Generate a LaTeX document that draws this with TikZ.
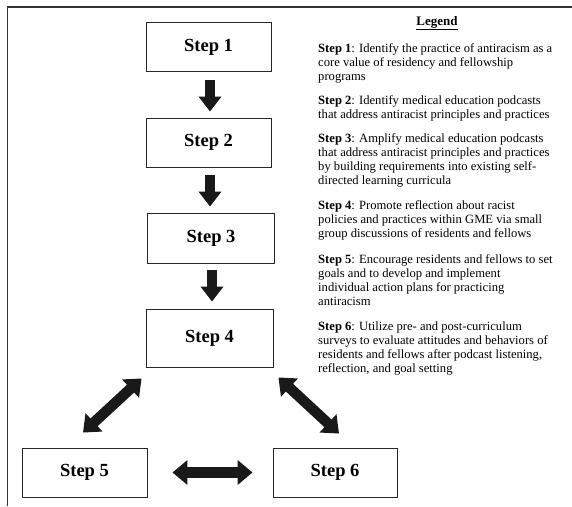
\documentclass[tikz,border=0pt]{standalone}
\usepackage{fontspec}
\setmainfont{Liberation Serif}
\usetikzlibrary{arrows.meta}
\begin{document}
\begin{tikzpicture}[x=1pt,y=-1pt,
  stepbox/.style={draw=black!85, line width=0.9pt, minimum width=125pt, minimum height=49pt, inner sep=0pt, font=\fontsize{18.5}{20}\selectfont\bfseries},
  blockarrow/.style={line width=10pt, black!90, -{Triangle[width=22pt,length=15pt]}},
  dblarrow/.style={line width=10.5pt, black!90, {Triangle[width=24pt,length=15pt]}-{Triangle[width=24pt,length=15pt]}},
  legtext/.style={anchor=north west, inner sep=0pt, align=left, font=\fontsize{12.6}{14}\selectfont}
]
\useasboundingbox (0,0) rectangle (572,506);
\fill[white] (0,0) rectangle (572,506);
% frame
\draw[black!80, line width=1.6pt] (7.5,506) -- (7.5,7) -- (572,7);

% step boxes
\node[stepbox] (s1) at (208.5,47) {Step 1};
\node[stepbox] (s2) at (208.5,142.5) {Step 2};
\node[stepbox, minimum width=127pt, minimum height=50pt] (s3) at (211,238) {Step 3};
\node[stepbox, minimum width=127pt, minimum height=58pt] (s4) at (209.5,338) {Step 4};
\node[stepbox] (s5) at (84.5,472.5) {Step 5};
\node[stepbox, minimum width=124pt] (s6) at (335,472.5) {Step 6};

% arrows
\draw[blockarrow] ([xshift=1.5pt,yshift=-8pt]s1.south) -- ([xshift=1.5pt,yshift=6pt]s2.north);
\draw[blockarrow] ([xshift=1.5pt,yshift=-8pt]s2.south) -- ([xshift=-1pt,yshift=6pt]s3.north);
\draw[blockarrow] ([xshift=1pt,yshift=-7pt]s3.south) -- ([xshift=2.5pt,yshift=7pt]s4.north);
\draw[dblarrow] ([xshift=-4pt,yshift=-11pt]s4.south west) -- ([xshift=-1.5pt,yshift=15pt]s5.north);
\draw[dblarrow] ([xshift=5pt,yshift=-10pt]s4.south east) -- ([xshift=4pt,yshift=14pt]s6.north);
\draw[dblarrow] ([xshift=25pt]s5.east) -- ([xshift=-20pt]s6.west);

% legend
\node[font=\fontsize{13}{15}\selectfont\bfseries] (leg) at (437,23) {\underline{Legend}};
\node[legtext] (l1) at (318,43) {\textbf{Step 1}: Identify the practice of antiracism as a\\core value of residency and fellowship\\programs};
\node[legtext] (l2) at (318,95) {\textbf{Step 2}: Identify medical education podcasts\\that address antiracist principles and practices};
\node[legtext] (l3) at (318,133) {\textbf{Step 3}: Amplify medical education podcasts\\that address antiracist principles and practices\\by building requirements into existing self-\\directed learning curricula};
\node[legtext] (l4) at (318,200) {\textbf{Step 4}: Promote reflection about racist\\policies and practices within GME via small\\group discussions of residents and fellows};
\node[legtext] (l5) at (318,254) {\textbf{Step 5}: Encourage residents and fellows to set\\goals and to develop and implement\\individual action plans for practicing\\antiracism};
\node[legtext] (l6) at (318,322) {\textbf{Step 6}: Utilize pre- and post-curriculum\\surveys to evaluate attitudes and behaviors of\\residents and fellows after podcast listening,\\reflection, and goal setting};
\end{tikzpicture}
\end{document}
